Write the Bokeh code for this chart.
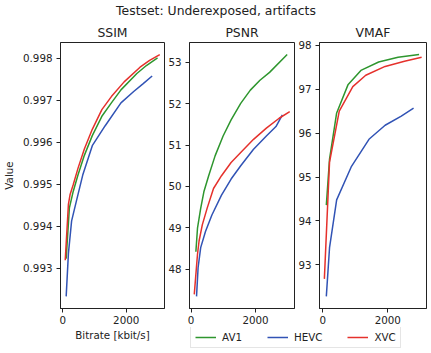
import numpy as np
from bokeh.plotting import figure
from bokeh.models import Range1d, FixedTicker, Legend, LegendItem, PrintfTickFormatter, Label
from bokeh.layouts import row, column
from bokeh.embed import file_html
from bokeh.resources import INLINE

FONT = "DejaVu Sans"
TXT = "#222222"

suptitle = "Testset: Underexposed, artifacts"
metric_names = ["SSIM", "PSNR", "VMAF"]
codecs = ["AV1", "HEVC", "XVC"]
codec_colors = ["#2e962e", "#3153b5", "#e5312c"]
x_label = "Bitrate [kbit/s]"
y_label = "Value"

# ---- SSIM ----
ssim_av1_rate = [111, 212, 332, 482, 683, 933, 1234, 1534, 1835, 2336, 2636, 2987]
ssim_av1 = [0.99323, 0.99444, 0.99483, 0.99522, 0.99569, 0.99616, 0.99662, 0.99694, 0.99725, 0.99764, 0.99783, 0.99801]
ssim_hevc_rate = [111, 181, 282, 432, 632, 933, 1334, 1835, 2236, 2536, 2817]
ssim_hevc = [0.99233, 0.99335, 0.99413, 0.99460, 0.99522, 0.99592, 0.99639, 0.99694, 0.99721, 0.99740, 0.99758]
ssim_xvc_rate = [81, 181, 232, 332, 482, 683, 933, 1234, 1534, 1935, 2436, 2737, 3057]
ssim_xvc = [0.99319, 0.99452, 0.99475, 0.99499, 0.99538, 0.99584, 0.99631, 0.99678, 0.99709, 0.99744, 0.99779, 0.99795, 0.99809]

# ---- PSNR ----
psnr_av1_rate = [149, 199, 298, 397, 546, 745, 994, 1242, 1540, 1839, 2137, 2435, 2982]
psnr_av1 = [48.42, 48.99, 49.47, 49.87, 50.26, 50.74, 51.22, 51.61, 52.01, 52.33, 52.57, 52.76, 53.19]
psnr_hevc_rate = [169, 218, 298, 447, 646, 944, 1242, 1540, 1938, 2336, 2634, 2833]
psnr_hevc = [47.34, 48.04, 48.52, 48.91, 49.31, 49.79, 50.18, 50.50, 50.90, 51.22, 51.45, 51.73]
psnr_xvc_rate = [99, 199, 248, 348, 497, 696, 944, 1242, 1540, 1938, 2336, 2733, 3061]
psnr_xvc = [47.39, 48.36, 48.68, 49.07, 49.47, 49.95, 50.26, 50.58, 50.82, 51.14, 51.41, 51.65, 51.81]

# ---- VMAF ----
vmaf_av1_rate = [111, 210, 429, 777, 1175, 1721, 2318, 2964]
vmaf_av1 = [94.36, 95.41, 96.46, 97.10, 97.43, 97.62, 97.73, 97.79]
vmaf_hevc_rate = [111, 210, 429, 876, 1423, 1920, 2417, 2795]
vmaf_hevc = [92.28, 93.39, 94.48, 95.23, 95.86, 96.18, 96.39, 96.57]
vmaf_xvc_rate = [51, 210, 509, 926, 1324, 1920, 2516, 3043]
vmaf_xvc = [92.68, 95.34, 96.50, 97.06, 97.32, 97.52, 97.64, 97.73]

x_ticks = [0, 2000]
ssim_ticks = [0.993, 0.994, 0.995, 0.996, 0.997, 0.998]
psnr_ticks = [48, 49, 50, 51, 52, 53]
vmaf_ticks = [93, 94, 95, 96, 97, 98]


def padded(vals, frac=0.05):
    lo, hi = float(np.min(vals)), float(np.max(vals))
    r = hi - lo
    return Range1d(lo - frac * r, hi + frac * r)


def blank(width, height):
    f = figure(width=width, height=height, output_backend="svg", toolbar_location=None,
               x_range=Range1d(0, 1), y_range=Range1d(0, 1), min_border=0)
    f.axis.visible = False
    f.grid.visible = False
    f.outline_line_color = None
    f.border_fill_color = "white"
    f.background_fill_color = "white"
    return f


def panel(title, series, yticks, fmt, width, height, bl, br, bb, xlabel=None, ylabel=None):
    xs = np.concatenate([np.asarray(s[0], float) for s in series])
    ys = np.concatenate([np.asarray(s[1], float) for s in series])
    p = figure(width=width, height=height, output_backend="svg", toolbar_location=None,
               x_range=padded(xs), y_range=padded(ys), title=title,
               min_border_left=bl, min_border_right=br, min_border_top=21, min_border_bottom=bb)
    for (x, y), c in zip(series, codec_colors):
        p.line(x, y, line_color=c, line_width=1.5)
    p.grid.visible = False
    p.background_fill_color = "white"
    p.border_fill_color = "white"
    p.outline_line_color = TXT
    p.outline_line_width = 1
    p.title.align = "center"
    p.title.text_font = FONT
    p.title.text_font_size = "12.4px"
    p.title.text_font_style = "normal"
    p.title.text_color = TXT
    p.title.standoff = 5
    p.title.offset = 0
    p.xaxis.ticker = FixedTicker(ticks=x_ticks)
    p.yaxis.ticker = FixedTicker(ticks=yticks)
    p.yaxis.formatter = PrintfTickFormatter(format=fmt)
    for ax in (p.xaxis, p.yaxis):
        ax.axis_line_color = TXT
        ax.major_tick_line_color = TXT
        ax.major_tick_in = 0
        ax.major_tick_out = 4
        ax.minor_tick_line_color = None
        ax.major_label_text_font = FONT
        ax.major_label_text_font_size = "10.3px"
        ax.major_label_text_color = TXT
        ax.axis_label_text_font = FONT
        ax.axis_label_text_font_size = "10.3px"
        ax.axis_label_text_font_style = "normal"
        ax.axis_label_text_color = TXT
    p.xaxis.major_label_standoff = 3
    p.yaxis.major_label_standoff = 4
    if xlabel:
        p.xaxis.axis_label = xlabel
        p.xaxis.axis_label_standoff = 2
    if ylabel:
        p.yaxis.axis_label = ylabel
        p.yaxis.axis_label_standoff = 5
    return p


f1 = panel(metric_names[0],
           [(ssim_av1_rate, ssim_av1), (ssim_hevc_rate, ssim_hevc), (ssim_xvc_rate, ssim_xvc)],
           ssim_ticks, "%.3f", 165, 333, 55, 1, 45, xlabel=x_label, ylabel=y_label)
f2 = panel(metric_names[1],
           [(psnr_av1_rate, psnr_av1), (psnr_hevc_rate, psnr_hevc), (psnr_xvc_rate, psnr_xvc)],
           psnr_ticks, "%d", 130, 307, 20, 1, 19)
f3 = panel(metric_names[2],
           [(vmaf_av1_rate, vmaf_av1), (vmaf_hevc_rate, vmaf_hevc), (vmaf_xvc_rate, vmaf_xvc)],
           vmaf_ticks, "%d", 136, 307, 22, 5, 19)

# title strip
tf = blank(431, 20)
tf.add_layout(Label(x=0.5, y=0.5, text=suptitle, text_align="center", text_baseline="middle",
                    text_font=FONT, text_font_size="12.4px", text_color=TXT))

# legend strip
lf = blank(266, 26)
items = []
for name, c in zip(codecs, codec_colors):
    r = lf.line(x=[-10, -9], y=[-10, -9], line_color=c, line_width=1.5)
    items.append(LegendItem(label=name, renderers=[r]))
leg = Legend(items=items, orientation="horizontal", location=(25, 5),
             padding=4, spacing=25, margin=0, glyph_width=21, glyph_height=12,
             label_standoff=6, label_text_font=FONT, label_text_font_size="10.3px",
             label_text_color=TXT, border_line_color="#cccccc", border_line_width=1,
             background_fill_color="white", background_fill_alpha=1.0)
lf.add_layout(leg)

layout = column(tf, row(f1, column(row(f2, f3), lf)))

open("out.html", "w").write(file_html(layout, INLINE))
